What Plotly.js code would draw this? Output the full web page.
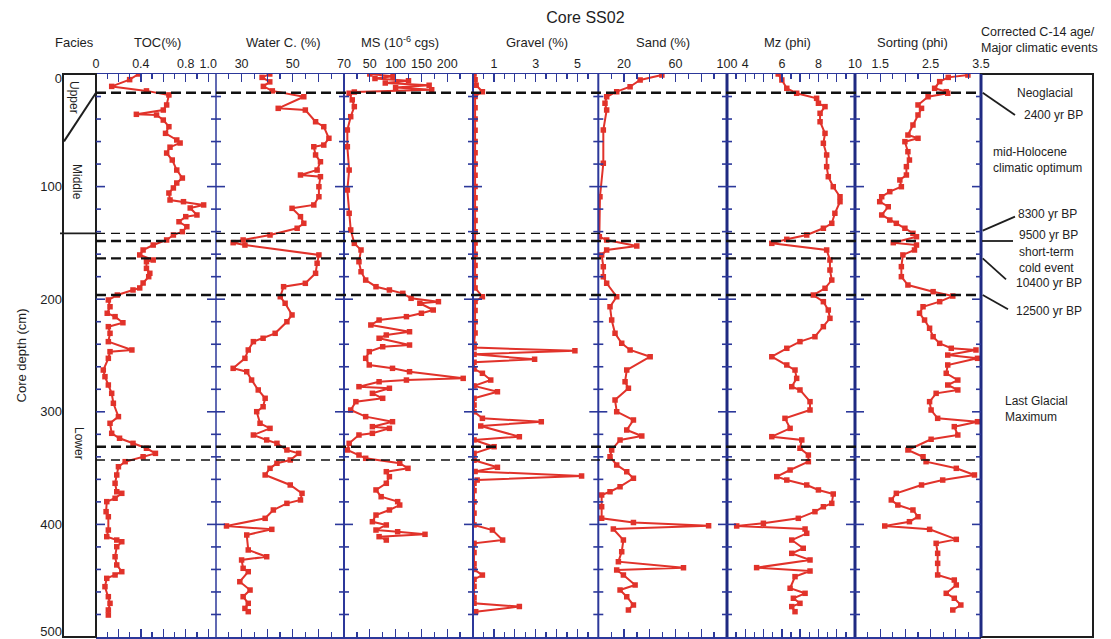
<!DOCTYPE html>
<html><head><meta charset="utf-8">
<script src="https://cdn.plot.ly/plotly-3.0.1.min.js"></script>
<style>html,body{margin:0;padding:0;background:#fff}#chart{width:1111px;height:639px}</style>
</head><body><div id="chart"></div>
<script>
// ---------------- DATA ----------------
const tocDepth = [0,5,11,15,18.6,27.5,32,35.8,36.4,40.9,46.8,52.7,58.6,61.3,65,70.2,76.4,85.3,92.4,96.8,101.2,105.7,111.9,113.4,116.3,119,125.2,126.7,131.2,135.6,140,143,147.4,151.9,156.3,160.7,165.2,166.7,172.6,177,180,185.6,190,191.8,196.3,200.7,206.7,212.5,215.5,220.9,224.4,230.3,237.7,245.1,246.6,252.5,262.9,268.8,276.2,283.6,292.4,304.3,310.2,319.1,323.5,328,332.4,336.9,339.9,344.3,348.8,356.1,363.5,371,372.4,376.8,379.8,388.7,393.2,405,410.9,413.9,415.4,419.8,428.7,436,442,444.9,447.9,455.3,464.2,470.1,476,480.5];
const tocVal = [0.38,0.30,0.14,0.45,0.65,0.63,0.60,0.36,0.54,0.60,0.65,0.62,0.72,0.75,0.66,0.63,0.68,0.72,0.77,0.72,0.69,0.65,0.66,0.78,0.96,0.84,0.90,0.80,0.74,0.81,0.77,0.69,0.63,0.51,0.42,0.39,0.51,0.45,0.45,0.48,0.47,0.42,0.39,0.33,0.19,0.11,0.125,0.10,0.17,0.24,0.11,0.125,0.11,0.32,0.125,0.11,0.065,0.08,0.11,0.14,0.155,0.20,0.125,0.14,0.21,0.33,0.45,0.53,0.42,0.26,0.20,0.185,0.17,0.185,0.23,0.17,0.096,0.09,0.11,0.11,0.096,0.185,0.23,0.185,0.17,0.185,0.23,0.17,0.096,0.08,0.11,0.125,0.11,0.11];

const waterDepth = [0,3,7,11,15,20.2,30.5,32,42.4,46.8,57.1,63.1,64.6,71.9,77.9,85.3,89.7,91.2,100.1,109,116.3,119.3,126.7,132.6,137,143,147.4,149.8,151.9,160.7,168.1,177,185.9,188.9,197.8,203.6,214,220,230.3,234.7,237.7,245.1,252.5,261.4,264.4,271.8,280.6,288,295.5,299.9,310.2,314.7,320.6,325,328,333.9,336.9,342.8,345.7,350.2,356.1,365,372.4,378.3,381.3,387.2,394.6,401.4,404.4,409.4,422.7,428.7,431.6,439,442,450.9,458.3,464.2,470.1,474.6,477.5];
const waterVal = [41,38,41,38.5,42,54.3,44.3,54.9,58.9,62.1,64.1,62.1,58.2,58.9,60.8,59.5,53,60.8,60.2,60.2,58.2,49.7,53,54.3,51.7,41.1,30.6,26.7,31.3,60.2,59.5,58.9,54.9,46.4,45.1,47,49.7,47.7,43.1,38.4,34.6,32.6,31.3,26.7,32,33.9,36.5,39.2,38.4,35.9,37.2,41.1,34.6,39.8,43.8,47.7,52.3,49,43.8,41.1,39.2,49,53.6,53,47.7,42.4,39.2,24.1,41.8,32,32.6,39.8,30,30.6,32.6,29.3,33.3,30.6,32.6,31.3,32.6];

const msDepth = [0,2,4,6,8,10,12,14,16,17.1,23,29,37.9,49.7,64.6,85.3,103,123.7,138.5,150.4,156.3,166.7,175.6,183,188.9,191.8,194.8,199.2,202.2,203.6,209.6,212.5,215.5,218.5,222.9,228.9,231.8,234.7,240.7,242.2,246.6,252.5,258.4,261.4,264.4,270.3,271.8,273.3,277.7,279.1,283.6,288,291,298.4,304.3,308.8,313.2,314.7,319.1,320.6,328,333.9,338.4,341.3,345.7,350.2,353.2,357.6,363.5,369.4,375.4,379.8,382.8,387.2,391.7,397.6,400.5,405,406.5,408.8,410.9,413.9];
const msVal = [50,95,60,125,80,165,100,170,20,10,16,20,13,6.5,6.5,10,6.5,10,13,20,33,29,33,42,62,88,114,130,183,147,173,150,121,68,52,127,82,68,127,75,49,42,49,94,127,231,121,68,29,88,55,75,23,13,42,94,55,88,55,29,10,6.5,29,42,108,124,82,88,82,62,72,104,108,88,62,55,82,62,104,157,68,82];

const gravelDepth = [0,5,10,15.7,20,30,40,50,60,70,80,90,100,110,120,130,140,150,160,170,180,190,197.8,202,210,220,230,240,243,245.7,249,253.4,256,262,265.8,271.8,277,282.2,288,294,300,305.8,308.8,312.6,322.1,325,331,336.9,343,349.3,353,357,360.6,363.5,370,380,390,400.5,405,413.9,416.8,425,435,440,445,448.8,455,465,470,473,477.5];
const gravelVal = [0.05,0.1,0.15,0.45,0.1, 0.1,0.1,0.1,0.1,0.1, 0.1,0.1,0.1,0.1,0.1, 0.1,0.1,0.1,0.1,0.1, 0.1,0.1,0.45,0.1,0.1, 0.1,0.1,0.05,0.05,4.88, 0.05,2.95,0.05,0.05,0.45, 0.85,0.05,1.17,0.05,0.05, 0.05,0.45,3.27,0.37,2.22, 0.05,1.01,0.05,0.05,1.17, 0.1,5.2,0.2,0.05,0.05, 0.05,0.05,0.05,0.93,1.42, 0.05,0.05,0.05,0.05,0.45, 0.05,0.05,0.05,0.05,2.22, 0.13];

const sandDepth = [0.9,5.3,11.3,15.7,20.2,26,32,49.7,79.3,109,144.5,147.4,152.8,156.3,160.7,171.1,180,185.9,197.8,206.7,218.5,230.3,239.2,245.1,251.1,262.9,273.3,279.1,289.5,299.9,307.3,316.2,321.5,325,333.9,339.9,347.2,353.2,359.1,366.5,371,373.9,384.3,394.6,398.4,401.1,404.1,413.9,424.2,433.1,438.4,440.5,444.9,453.8,458.3,464.2,471.6,476];
const sandVal = [49.4,32.5,24.7,14.3,6.5,5.2,6.5,3.9,3.9,1.3,0.8,6.5,29.9,6.5,2.6,3.9,3.9,6.5,14.3,9.1,10.4,13,18.2,24.7,40.3,22.1,20.8,23.4,13,14.3,27.3,22.1,33.8,16.9,10.4,9.1,14.3,22.1,27.3,16.9,9.1,2.6,2.6,2.6,27.3,85.7,11.7,19.5,18.2,15.6,66.2,14.3,19.5,28.6,16.9,22.1,27.3,23.4];

const mzDepth = [0,5.3,12.7,17.1,21.6,26,29,34.9,42.4,52.7,61.5,71.9,82.3,91.2,100.1,109,113.4,123.7,132.6,137,143,146.8,150.4,156.3,165.2,174.1,183,190.3,196.3,202.2,209.6,217,224.4,233.3,237.7,243.6,251.1,258.4,262.9,270.3,277.7,280.6,291,298.4,305.8,314.7,322.1,325,332.4,338.4,344.3,351.7,357.6,360.6,365,369.4,373,381.3,384.3,388.7,394.6,399,401.4,404.1,407.9,413.9,421.2,425.7,431.6,438.4,441.4,446.4,456.7,461.2,465.6,470.1,473,477.5];
const mzVal = [5.8,6.0,6.27,6.81,7.9,8.0,8.36,8.09,8.09,8.36,8.27,8.45,8.45,8.54,8.81,9.18,9.18,8.9,8.73,8.27,7.36,6.27,5.45,8.45,8.63,8.63,8.73,8.36,7.72,8.27,8.54,8.63,8.27,7.81,6.99,6.27,5.45,6.27,6.72,6.81,6.54,6.99,7.54,7.54,6.17,6.45,5.45,7.09,6.99,7.45,7.45,6.45,5.72,6.27,7.36,8.0,8.81,8.73,8.27,7.81,6.9,4.99,3.53,7.27,7.36,6.54,7.17,6.54,7.54,4.62,7.54,6.72,6.45,7.27,6.63,6.99,6.54,6.72];

const sortDepth = [0.9,3,6.8,12.7,15.7,17.1,20.2,27.5,30.5,36.4,45.3,54.2,57.1,60.1,69,76.4,82.3,89.7,94.1,100.1,104.5,109,113.4,117.9,125.2,129.7,132.6,137,141.5,144.5,149.8,151.9,156.3,160.7,171.1,180,187.4,193.3,197.2,202.2,206.7,212.5,218.5,225.8,233.3,239.2,243.6,245.1,249.6,252.5,258.4,265.8,271.8,276.2,280.6,283.6,291,298.4,305.8,308.8,313.2,320.6,324.4,333.9,339.9,344.3,350.2,356.1,360.6,365,372.4,378.3,382.8,387.2,393.2,397.6,401.4,404.4,413.3,416.8,425.7,434.6,444.9,449.4,453.8,461.2,465.6,471.6,476];
const sortVal = [3.24,2.85,2.68,2.58,2.81,2.84,2.45,2.25,2.32,2.25,2.15,2.05,2.25,1.99,2.05,2.08,2.02,2.02,1.89,1.92,1.69,1.53,1.49,1.66,1.53,1.69,1.82,1.99,2.15,2.22,1.76,2.22,2.18,1.95,1.92,1.92,2.05,2.55,2.94,2.68,2.35,2.28,2.38,2.48,2.55,2.68,2.91,3.40,2.84,3.43,2.84,2.81,3.04,2.84,3.04,2.61,2.48,2.51,2.64,3.43,2.97,3.04,2.51,2.05,2.35,2.41,3.01,3.37,2.74,2.32,1.82,1.72,1.85,2.15,2.25,2.08,1.59,2.48,3.01,2.61,2.64,2.64,2.64,2.97,3.01,2.81,2.97,3.10,2.94];

// tick labels (value, label) per panel
const tocTickVals = [0,0.2,0.4,0.6,0.8,1.0];      const tocTickText = ['0','','0.4','','0.8','1.0'];
const waterTickVals = [20,30,40,50,60,70];         const waterTickText = ['','30','','50','','70'];
const msTickVals = [0,50,100,150,200,250];         const msTickText = ['','50','100','150','200',''];
const gravelTickVals = [0,1,2,3,4,5,6];            const gravelTickText = ['','1','','3','','5',''];
const sandTickVals = [0,20,40,60,80,100];          const sandTickText = ['','20','','60','','100'];
const mzTickVals = [3,4,5,6,7,8,9,10];             const mzTickText = ['','4','','6','','8','','10'];
const sortTickVals = [1,1.5,2,2.5,3,3.5];          const sortTickText = ['','1.5','','2.5','','3.5'];
const depthTicks = [0,100,200,300,400,500];
const depthTickText = ['0','100','200','300','400','500'];

const panelTitles = ['Facies','TOC(%)','Water C. (%)','MS (10<sup>-6</sup> cgs)','Gravel (%)','Sand (%)','Mz (phi)','Sorting (phi)'];
const faciesNames = ['Upper','Middle','Lower'];
const boundaryThick = [16.6,148.3,163.7,196.3,331];
const boundaryThin = [141.5,342.8];
const eventTexts = ['Neoglacial','2400 yr BP','mid-Holocene<br>climatic optimum','8300 yr BP','9500 yr BP','short-term<br>cold event','10400 yr BP','12500 yr BP','Last Glacial<br>Maximum'];

// ---------------- LAYOUT ----------------
const W=1111,H=639,ML=63,MR=17,MT=74,MB=2;
const PW=W-ML-MR, PH=H-MT-MB;
const pxX = p => (p-ML)/PW;
const pxY = p => 1-(p-MT)/PH;
const BLUE='#2c389a', NAVY='#1f2a82', RED='#e1322a', INK='#1e1e1e';
const FONT='Liberation Sans, Arial, Helvetica, sans-serif';

const panels = [
  {d:tocDepth, v:tocVal, range:[0,1.07], tv:tocTickVals, tt:tocTickText, minor:0.1, x0:96, x1:216},
  {d:waterDepth, v:waterVal, range:[20,70], tv:waterTickVals, tt:waterTickText, minor:5, x0:216, x1:344},
  {d:msDepth, v:msVal, range:[0,250], tv:msTickVals, tt:msTickText, minor:25, x0:344, x1:473},
  {d:gravelDepth, v:gravelVal, range:[0,6], tv:gravelTickVals, tt:gravelTickText, minor:0.5, x0:473, x1:598.3},
  {d:sandDepth, v:sandVal, range:[0,100], tv:sandTickVals, tt:sandTickText, minor:10, x0:598.3, x1:727},
  {d:mzDepth, v:mzVal, range:[3,10], tv:mzTickVals, tt:mzTickText, minor:0.5, x0:727, x1:855},
  {d:sortDepth, v:sortVal, range:[1,3.5], tv:sortTickVals, tt:sortTickText, minor:0.25, x0:855, x1:981}
];

// the reference draws its end labels (0 and 500) slightly inside the frame
const depthTickPos = depthTicks.map(d => d===0 ? 3.5 : (d===500 ? 495.5 : d));

const layout = {
  width:W, height:H, margin:{l:ML,r:MR,t:MT,b:MB},
  paper_bgcolor:'#fff', plot_bgcolor:'#fff', showlegend:false,
  font:{family:FONT, color:INK, size:12},
  title:{text:'Core SS02', x:563/W, xref:'paper', xanchor:'center', y:1-17/H, yref:'container', yanchor:'middle', font:{size:16, family:FONT, color:INK}},
  xaxis:{domain:[0,pxX(96)], range:[0,1], showticklabels:false, ticks:'', showgrid:false, zeroline:false, showline:false, fixedrange:true},
  yaxis:{domain:[0,1], anchor:'x', side:'left', range:[500,0], tickmode:'array', tickvals:depthTickPos, ticktext:depthTickText, ticks:'', showgrid:false, zeroline:false, showline:false,
         tickfont:{size:13, family:FONT, color:INK}, fixedrange:true, ticklabeloverflow:'allow',
         title:{text:'Core depth (cm)', font:{size:13, family:FONT, color:INK}, standoff:10}},
  shapes:[], annotations:[]
};

// the facies column (x / y) is the subplot that carries the depth axis
const traces = [{type:'scatter', mode:'markers', x:[], y:[], xaxis:'x', yaxis:'y', hoverinfo:'skip', showlegend:false}];
panels.forEach((p,i)=>{
  const k = i+2;
  layout['xaxis'+k] = {
    domain:[pxX(p.x0), pxX(p.x1)], anchor:'y', side:'top', range:p.range,
    tickmode:'array', tickvals:p.tv, ticktext:p.tt, ticks:'inside', ticklen:8, tickwidth:1.3, tickcolor:BLUE,
    minor:{tickmode:'linear', tick0:p.range[0], dtick:p.minor, ticks:'inside', ticklen:5, tickwidth:1.3, tickcolor:BLUE},
    showline:true, linecolor:BLUE, linewidth:1.5, mirror:'ticks',
    showgrid:false, zeroline:false, fixedrange:true,
    tickfont:{size:12.5, family:FONT, color:INK}
  };
  traces.push({type:'scatter', mode:'lines+markers', x:p.v, y:p.d, xaxis:'x'+k, yaxis:'y',
    line:{color:RED, width:2}, marker:{symbol:'square', size:5.5, color:RED}, hoverinfo:'skip'});
});

const S = layout.shapes;
// facies box and events box
S.push({type:'rect', xref:'paper', yref:'paper', x0:pxX(63), x1:pxX(96), y0:0, y1:1, line:{color:INK, width:2}});
S.push({type:'rect', xref:'paper', yref:'paper', x0:pxX(981), x1:pxX(1093), y0:0, y1:1, line:{color:INK, width:2}});
// facies boundaries
S.push({type:'line', xref:'paper', yref:'y', x0:pxX(96), y0:16.6, x1:pxX(64), y1:59.8, line:{color:INK, width:2}});
S.push({type:'line', xref:'paper', yref:'y', x0:pxX(60), y0:141.5, x1:pxX(96), y1:141.5, line:{color:INK, width:1.6}});

// panel boundary lines with crossing depth ticks
const edges = [
  {x:96, w:2, c:INK, l:0, r:1},
  {x:216, w:1.5, c:BLUE, l:1, r:1},
  {x:344, w:2, c:BLUE, l:1, r:1},
  {x:473, w:2, c:BLUE, l:1, r:1},
  {x:598.3, w:2, c:BLUE, l:1, r:1},
  {x:727, w:3, c:NAVY, l:1, r:1},
  {x:855, w:3, c:NAVY, l:1, r:1},
  {x:981, w:3, c:NAVY, l:1, r:0}
];
edges.forEach(e=>{
  S.push({type:'line', xref:'paper', yref:'paper', x0:pxX(e.x), x1:pxX(e.x), y0:0, y1:1, line:{color:e.c, width:e.w}});
  for(let d=20; d<500; d+=20){
    const len = (d%100===0) ? 9 : 5;
    S.push({type:'line', xref:'paper', yref:'y', x0:pxX(e.x-len*e.l), x1:pxX(e.x+len*e.r), y0:d, y1:d, line:{color:BLUE, width:1.6}});
  }
});

// dashed boundaries
boundaryThick.forEach(d=>S.push({type:'line', xref:'paper', yref:'y', x0:pxX(96), x1:pxX(981), y0:d, y1:d, line:{color:'#111', width:2.4, dash:'10px,5px'}}));
boundaryThin.forEach(d=>S.push({type:'line', xref:'paper', yref:'y', x0:pxX(96), x1:pxX(981), y0:d, y1:d, line:{color:'#111', width:1.4, dash:'9px,6px'}}));

// connector lines in the events column
const connectors = [[982.7,92.7,1015,115],[982.7,230.7,1015,216.7],[982,241,1013,241],[982.7,258.3,1006,279.3],[982.7,295,1008,309.3]];
connectors.forEach(c=>S.push({type:'line', xref:'paper', yref:'paper', x0:pxX(c[0]), y0:pxY(c[1]), x1:pxX(c[2]), y1:pxY(c[3]), line:{color:INK, width:1.8}}));

// annotations
const A = layout.annotations;
const headerX = [74,157,283,400,537,663,787,912];
panelTitles.forEach((t,i)=>A.push({text:t, xref:'paper', yref:'paper', x:pxX(headerX[i]), y:pxY(42), xanchor:'center', yanchor:'middle', showarrow:false, font:{size:13, family:FONT, color:INK}}));
A.push({text:'Corrected C-14 age/<br>Major climatic events', xref:'paper', yref:'paper', x:pxX(1039), y:pxY(40), xanchor:'center', yanchor:'middle', align:'left', showarrow:false, font:{size:12.5, family:FONT, color:INK}});

const faciesPos = [[74,97],[77,182],[79,443]];
faciesNames.forEach((t,i)=>A.push({text:t, xref:'paper', yref:'paper', x:pxX(faciesPos[i][0]), y:pxY(faciesPos[i][1]), textangle:90, xanchor:'center', yanchor:'middle', showarrow:false, font:{size:12, family:FONT, color:INK}}));

const eventPos = [[1045,93.3,'center'],[1053,115,'center'],[991,160,'left'],[1047,214,'center'],[1048,235,'center'],[1046,260,'center'],[1049,283.3,'center'],[1049,310.7,'center'],[1003,409,'left']];
eventTexts.forEach((t,i)=>{
  const p = eventPos[i];
  A.push({text:t, xref:'paper', yref:'paper', x:pxX(p[0]), y:pxY(p[1]), xanchor:p[2], yanchor:'middle', align:p[2], showarrow:false, font:{size:12, family:FONT, color:INK}});
});

Plotly.newPlot('chart', traces, layout, {displayModeBar:false, staticPlot:true});
</script>
</body></html>
